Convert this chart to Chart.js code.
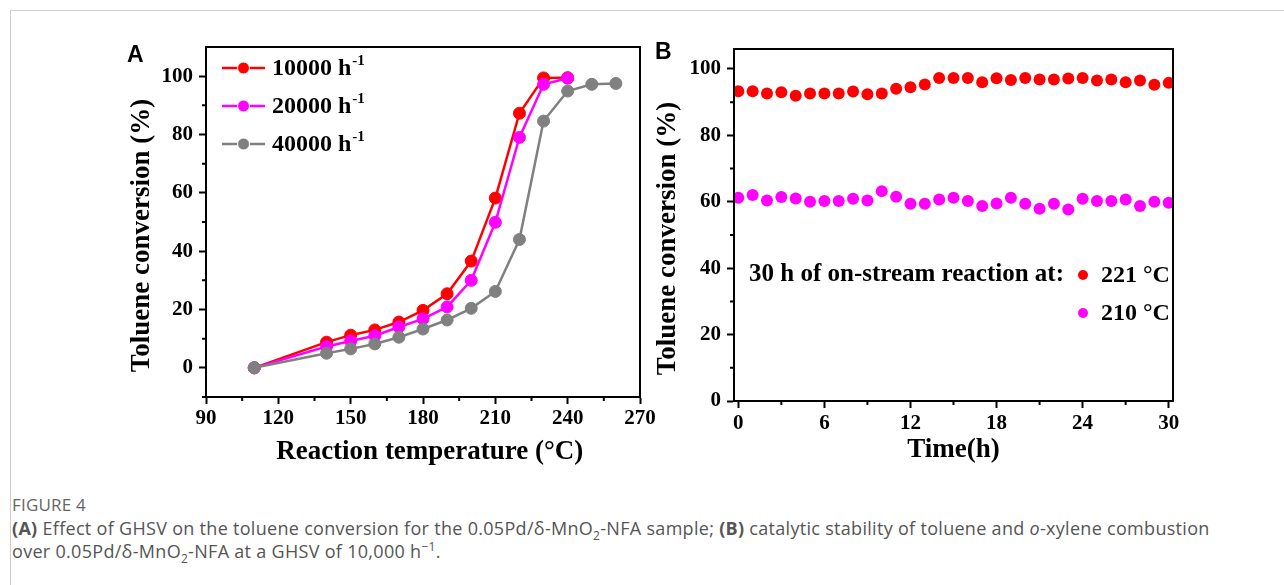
<!DOCTYPE html>
<html><head><meta charset="utf-8">
<script src="https://cdn.jsdelivr.net/npm/chart.js@4.4.0/dist/chart.umd.min.js"></script>
<style>
html,body{margin:0;padding:0;background:#fff;width:1284px;height:585px;overflow:hidden;}
#card{position:absolute;left:10px;top:10px;width:1300px;height:620px;border:1px solid #cfcfcf;box-sizing:border-box;}
canvas{position:absolute;}
#cA{left:100px;top:20px;}
#cB{left:650px;top:20px;}
.plabel{position:absolute;font-family:'Liberation Sans',Arial,sans-serif;font-weight:bold;font-size:23px;color:#000;line-height:23px;}
#cap{position:absolute;left:12px;top:493px;font-family:'Open Sans',sans-serif;font-size:18px;letter-spacing:0.3px;color:#555;line-height:23.5px;white-space:nowrap;}
#cap .fig{font-size:17px;color:#666;letter-spacing:0.2px;}
#cap sub,#cap sup{font-size:12px;line-height:0;}
</style></head>
<body>
<div id="card"></div>
<canvas id="cA" width="560" height="450"></canvas>
<canvas id="cB" width="560" height="450"></canvas>
<div class="plabel" style="left:127px;top:43px;">A</div>
<div class="plabel" style="left:655px;top:40px;">B</div>
<div id="cap"><span class="fig">FIGURE 4</span><br><b>(A)</b> Effect of GHSV on the toluene conversion for the 0.05Pd/δ-MnO<sub>2</sub>-NFA sample; <b>(B)</b> catalytic stability of toluene and <i>o</i>-xylene combustion<br>over 0.05Pd/δ-MnO<sub>2</sub>-NFA at a GHSV of 10,000 h<sup>−1</sup>.</div>
<script>
// ---------- Panel A data ----------
const tempA = [110,140,150,160,170,180,190,200,210,220,230,240,250,260];
const conv10000 = [0,8.8,11.2,13.0,15.7,19.7,25.4,36.6,58.2,87.3,99.4,99.5];
const conv20000 = [0,7.3,9.2,11.0,14.0,16.8,20.9,30.0,49.9,79.0,97.2,99.3];
const conv40000 = [0,5.0,6.5,8.2,10.5,13.3,16.4,20.4,26.2,44.0,84.6,94.9,97.2,97.5];
const seriesA = ['10000 h^-1','20000 h^-1','40000 h^-1'];
const xTicksA = [90,120,150,180,210,240,270];
const xMinorA = [105,135,165,195,225,255];
const yTicksA = [0,20,40,60,80,100];
const yMinorA = [-10,10,30,50,70,90];

// ---------- Panel B data ----------
const hoursB = [0,1,2,3,4,5,6,7,8,9,10,11,12,13,14,15,16,17,18,19,20,21,22,23,24,25,26,27,28,29,30];
const conv221 = [93.3,93.3,92.6,93.0,91.9,92.6,92.6,92.6,93.2,92.4,92.6,94.0,94.5,95.3,97.3,97.3,97.3,96.0,97.2,96.7,97.3,96.8,96.8,97.1,97.3,96.5,96.8,96.0,96.5,95.2,95.8];
const conv210 = [61.2,62.0,60.4,61.4,61.0,60.0,60.2,60.2,60.9,60.4,63.2,61.5,59.4,59.4,60.7,61.2,60.2,58.7,59.5,61.2,59.4,57.9,59.4,57.7,60.9,60.2,60.2,60.7,58.7,60.0,59.7];
const seriesB = ['221 °C','210 °C'];
const noteB = '30 h of on-stream reaction at:';
const xTicksB = [0,6,12,18,24,30];
const xMinorB = [3,9,15,21,27];
const yTicksB = [0,20,40,60,80,100];
const yMinorB = [10,30,50,70,90];

const RED='#ff0000', MAG='#ff00ff', GRAY='#808080';
const SERIF='"Liberation Serif","Times New Roman",serif';
const tickFont={family:SERIF,size:21,weight:'bold'};
const titleFont={family:SERIF,size:27,weight:'bold',lineHeight:1.2};
const NB='\u00a0';

function pts(xs, ys){ return ys.map((y,i)=>({x:xs[i],y:y})); }

function framePlugin(minX, minY){
  return {id:'frame', afterDraw(chart){
    const {ctx, chartArea:a} = chart;
    const xs=chart.scales.x, ys=chart.scales.y;
    ctx.save();
    ctx.strokeStyle='#000'; ctx.lineWidth=2;
    ctx.strokeRect(a.left, a.top, a.right-a.left, a.bottom-a.top);
    ctx.beginPath();
    minX.forEach(v=>{const p=xs.getPixelForValue(v); ctx.moveTo(p,a.bottom); ctx.lineTo(p,a.bottom+4);});
    minY.forEach(v=>{const p=ys.getPixelForValue(v); ctx.moveTo(a.left,p); ctx.lineTo(a.left-4,p);});
    ctx.stroke();
    ctx.restore();
  }};
}

function axis(min,max,ticks,fixed,isX,title,tickPad,titlePad){
  return {type:'linear',min:min,max:max,
    afterBuildTicks:s=>{s.ticks=ticks.map(v=>({value:v}));},
    afterFit:s=>{ if(isX) s.height=fixed; else s.width=fixed; },
    ticks:{color:'#000',font:tickFont,padding:tickPad,maxRotation:0,autoSkip:false},
    grid:{display:true,drawOnChartArea:false,drawTicks:true,tickLength:7,tickWidth:2,tickColor:'#000'},
    border:{display:true,color:'#000',width:2},
    title:{display:true,text:title,color:'#000',font:titleFont,padding:titlePad}
  };
}

const legendA={id:'legA', afterDraw(chart){
  const ctx=chart.ctx, a=chart.chartArea;
  chart.data.datasets.forEach((ds,i)=>{
    const y=a.top+21+i*38, x0=a.left+16;
    ctx.save();
    ctx.strokeStyle=ds.borderColor; ctx.lineWidth=2.5;
    ctx.beginPath(); ctx.moveTo(x0,y); ctx.lineTo(x0+43,y); ctx.stroke();
    ctx.fillStyle=ds.pointBackgroundColor; ctx.strokeStyle='#fff'; ctx.lineWidth=1;
    ctx.beginPath(); ctx.arc(x0+21.5,y,6,0,Math.PI*2); ctx.fill(); ctx.stroke();
    const parts=ds.label.split('^');
    ctx.fillStyle='#000'; ctx.textBaseline='middle'; ctx.textAlign='left';
    ctx.font='bold 24px '+SERIF;
    ctx.fillText(parts[0], x0+50, y+1);
    const w=ctx.measureText(parts[0]).width;
    ctx.font='bold 15px '+SERIF;
    ctx.fillText(parts[1], x0+51+w, y-7);
    ctx.restore();
  });
}};

const noteBPlugin={id:'noteB', afterDraw(chart){
  const ctx=chart.ctx, a=chart.chartArea;
  ctx.save();
  ctx.fillStyle='#000'; ctx.textBaseline='middle'; ctx.textAlign='left';
  ctx.font='bold 25px '+SERIF;
  ctx.fillText(noteB, a.left+15, a.top+226);
  chart.data.datasets.forEach((ds,i)=>{
    const y=a.top+226+i*38;
    ctx.fillStyle=ds.pointBackgroundColor;
    ctx.beginPath(); ctx.arc(a.left+349,y,5,0,Math.PI*2); ctx.fill();
    ctx.fillStyle='#000'; ctx.font='bold 24px '+SERIF;
    ctx.fillText(ds.label, a.left+367, y+1);
  });
  ctx.restore();
}};

new Chart(document.getElementById('cA'),{
  type:'line',
  data:{datasets:[
    {label:seriesA[0],data:pts(tempA,conv10000),borderColor:RED,backgroundColor:RED,pointBackgroundColor:RED,order:3},
    {label:seriesA[1],data:pts(tempA,conv20000),borderColor:MAG,backgroundColor:MAG,pointBackgroundColor:MAG,order:2},
    {label:seriesA[2],data:pts(tempA,conv40000),borderColor:GRAY,backgroundColor:GRAY,pointBackgroundColor:GRAY,order:1}
  ]},
  options:{responsive:false,animation:false,
    layout:{padding:{left:0,top:27,right:20,bottom:0}},
    elements:{line:{borderWidth:2.5,tension:0},point:{radius:6,borderWidth:1,borderColor:'#fff',hoverRadius:6}},
    plugins:{legend:{display:false},tooltip:{enabled:false}},
    scales:{
      x:axis(90,270,xTicksA,73,true,NB+NB+'Reaction temperature (°C)',2,{top:0,bottom:2}),
      y:axis(-10,110,yTicksA,106,false,'Toluene conversion (%)'+NB+NB+NB+NB,6,{top:26,bottom:0})
    }
  },
  plugins:[framePlugin(xMinorA,yMinorA),legendA]
});

new Chart(document.getElementById('cB'),{
  type:'scatter',
  data:{datasets:[
    {label:seriesB[0],data:pts(hoursB,conv221),backgroundColor:RED,pointBackgroundColor:RED},
    {label:seriesB[1],data:pts(hoursB,conv210),backgroundColor:MAG,pointBackgroundColor:MAG}
  ]},
  options:{responsive:false,animation:false,
    layout:{padding:{left:0,top:29,right:37,bottom:0}},
    elements:{point:{radius:6,borderWidth:0,hoverRadius:6}},
    plugins:{legend:{display:false},tooltip:{enabled:false}},
    scales:{
      x:axis(-0.3,30.3,xTicksB,69,true,'Time(h)',3,{top:0,bottom:4}),
      y:axis(0,106,yTicksB,84,false,'Toluene conversion (%)'+NB+NB+NB+NB,6,{top:2,bottom:0})
    }
  },
  plugins:[framePlugin(xMinorB,yMinorB),noteBPlugin]
});
</script>
</body></html>
